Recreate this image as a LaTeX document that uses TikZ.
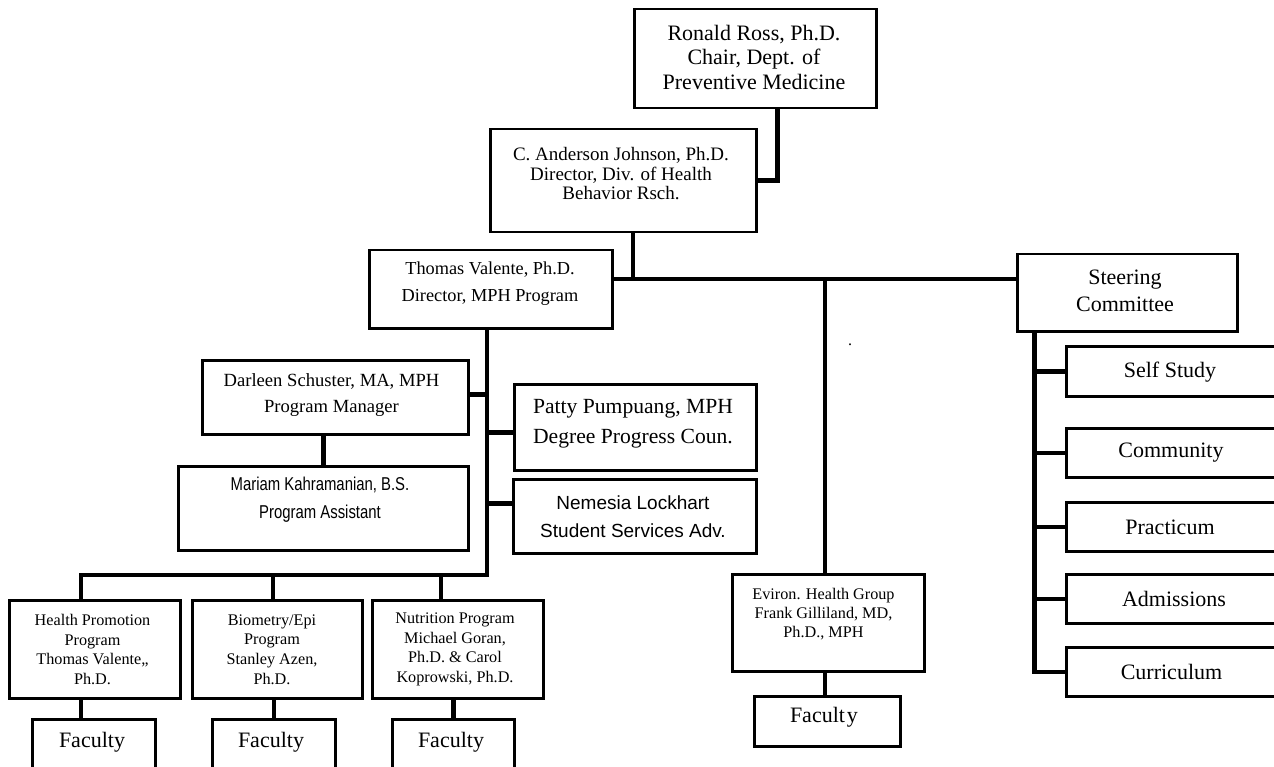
\documentclass[tikz,border=0pt]{standalone}
\usepackage{fontspec}
\setmainfont{Liberation Serif}
\newfontfamily\arialf{Liberation Sans}
\newfontfamily\narrowf[FakeStretch=0.8]{Liberation Sans}
\usetikzlibrary{calc}
\begin{document}
\begin{tikzpicture}[x=1pt,y=-1pt,
  box/.style={draw, line width=2.5pt, inner sep=0pt, anchor=north west},
  conn/.style={line width=4.5pt},
  lbl/.style={inner sep=0pt, align=center},
]
\clip (0,0) rectangle (1274,767);
\fill[white] (0,0) rectangle (1274,767);

% boxes
\node[box, minimum width=242pt, minimum height=99pt] (ross) at (633,8) {};
\node[box, minimum width=266pt, minimum height=103pt] (anderson) at (489,128) {};
\node[box, minimum width=243pt, minimum height=78pt] (thomas) at (368,249) {};
\node[box, minimum width=220pt, minimum height=77pt] (steering) at (1016,253) {};
\node[box, minimum width=266pt, minimum height=74pt] (darleen) at (201,359) {};
\node[box, minimum width=242pt, minimum height=86pt] (patty) at (513,383) {};
\node[box, minimum width=290pt, minimum height=84pt] (mariam) at (177,465) {};
\node[box, minimum width=243pt, minimum height=74pt] (nemesia) at (512,478) {};
\node[box, minimum width=171pt, minimum height=98pt] (hp) at (8,599) {};
\node[box, minimum width=170pt, minimum height=98pt] (bio) at (191,599) {};
\node[box, minimum width=171pt, minimum height=98pt] (nut) at (371,599) {};
\node[box, minimum width=123pt, minimum height=80pt] (fac1) at (31,718) {};
\node[box, minimum width=123pt, minimum height=80pt] (fac2) at (211,718) {};
\node[box, minimum width=122pt, minimum height=80pt] (fac3) at (391,718) {};
\node[box, minimum width=192pt, minimum height=97pt] (eviron) at (731,573) {};
\node[box, minimum width=146pt, minimum height=50pt] (evfac) at (753,695) {};
\node[box, minimum width=230pt, minimum height=50pt] (self) at (1065,345) {};
\node[box, minimum width=230pt, minimum height=49pt] (comm) at (1065,427) {};
\node[box, minimum width=230pt, minimum height=49pt] (prac) at (1065,501) {};
\node[box, minimum width=230pt, minimum height=49pt] (adm) at (1065,573) {};
\node[box, minimum width=230pt, minimum height=49pt] (curr) at (1065,646) {};

% texts
\node[lbl, font=\fontsize{22}{24.5}\selectfont] (rossT) at (754,57) {Ronald Ross, Ph.D.\\Chair, Dept. of\\Preventive Medicine};
\node[lbl, font=\fontsize{19}{19.5}\selectfont] (andersonT) at (621,174) {C. Anderson Johnson, Ph.D.\\Director, Div. of Health\\Behavior Rsch.};
\node[lbl, font=\fontsize{18.3}{27}\selectfont] (thomasT) at (490,284) {Thomas Valente, Ph.D.\\Director, MPH Program};
\node[lbl, font=\fontsize{22}{27}\selectfont] (steeringT) at (1125,291) {Steering\\Committee};
\node[lbl, font=\fontsize{18.6}{26}\selectfont] (darleenT) at (331.5,395) {Darleen Schuster, MA, MPH\\Program Manager};
\node[lbl, font=\fontsize{21.6}{30}\selectfont] (pattyT) at (633,424) {Patty Pumpuang, MPH\\Degree Progress Coun.};
\node[lbl, font=\narrowf\fontsize{18.6}{28}\selectfont] (mariamT) at (320,500) {Mariam Kahramanian, B.S.\\Program Assistant};
\node[lbl, font=\arialf\fontsize{19}{28}\selectfont] (nemesiaT) at (633,517) {Nemesia Lockhart\\Student Services Adv.};
\node[lbl, font=\fontsize{16.2}{19.7}\selectfont] (hpT) at (92.5,649.5) {Health Promotion\\Program\\Thomas Valente,,\\Ph.D.};
\node[lbl, font=\fontsize{16.2}{19.7}\selectfont] (bioT) at (272,649.5) {Biometry/Epi\\Program\\Stanley Azen,\\Ph.D.};
\node[lbl, font=\fontsize{16.2}{19.7}\selectfont] (nutT) at (455,649.5) {Nutrition Program\\Michael Goran,\\Ph.D. \& Carol\\Koprowski, Ph.D.};
\node[lbl, font=\fontsize{22}{24}\selectfont] (fac1T) at (92,742) {Faculty};
\node[lbl, font=\fontsize{22}{24}\selectfont] (fac2T) at (271,742) {Faculty};
\node[lbl, font=\fontsize{22}{24}\selectfont] (fac3T) at (451,742) {Faculty};
\node[lbl, font=\fontsize{16.2}{19}\selectfont] (evironT) at (823.5,614) {Eviron. Health Group\\Frank Gilliland, MD,\\Ph.D., MPH};
\node[lbl, font=\fontsize{22}{24}\selectfont] (evfacT) at (824,717) {Facult\kern2pt y};
\node[lbl, font=\fontsize{22}{24}\selectfont] (selfT) at (1170,372) {Self Study};
\node[lbl, font=\fontsize{22}{24}\selectfont] (commT) at (1171,453) {Community};
\node[lbl, font=\fontsize{22}{24}\selectfont] (pracT) at (1170,527) {Practicum};
\node[lbl, font=\fontsize{22}{24}\selectfont] (admT) at (1174,599) {Admissions};
\node[lbl, font=\fontsize{22}{24}\selectfont] (currT) at (1171.5,672) {Curriculum};
\node[lbl, font=\fontsize{16}{18}\selectfont] (dot) at (850,345) {.};

% connectors
\coordinate (hub) at (633,279);
\coordinate (evj) at (825,279);
\coordinate (bus) at (487,575);
\coordinate (d1) at (81,575);
\coordinate (d2) at (273,575);
\coordinate (d3) at (441,575);
\coordinate (sx) at (1034.5,330);

\draw[conn] ([xshift=22pt]ross.south) |- (anderson);
\draw[conn] (anderson.south -| hub) -- (hub);
\draw[conn] (thomas.east |- hub) -- (steering.west |- hub);
\draw[conn] (evj) -- (evj |- eviron.north);
\draw[conn] (evj |- eviron.south) -- (evj |- evfac.north);
\draw[conn] (thomas.south -| bus) -- (bus) -- (d1) -- (d1 |- hp.north);
\draw[conn] (d2) -- (d2 |- bio.north);
\draw[conn] (d3) -- (d3 |- nut.north);
\draw[conn] (d1 |- hp.south) -- (d1 |- fac1.north);
\draw[conn] (fac2.north) -- (fac2.north |- bio.south);
\draw[conn] (fac3.north) -- (fac3.north |- nut.south);
\draw[conn] ([yshift=3pt]darleen.east) -- ([yshift=3pt]darleen.east -| bus);
\draw[conn] ([yshift=-5pt]patty.west) -- ([yshift=-5pt]patty.west -| bus);
\draw[conn] ([yshift=13pt]nemesia.west) -- ([yshift=13pt]nemesia.west -| bus);
\draw[conn] (mariam.north) -- (mariam.north |- darleen.south);
\draw[conn] (sx |- steering.south) |- (curr);
\draw[conn] (sx |- self) -- (self);
\draw[conn] (sx |- comm) -- (comm);
\draw[conn] (sx |- prac) -- (prac);
\draw[conn] (sx |- adm) -- (adm);
\end{tikzpicture}
\end{document}
